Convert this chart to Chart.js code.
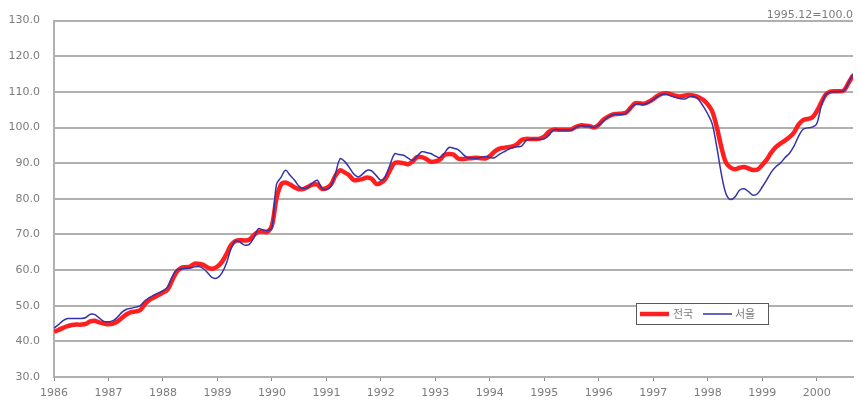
<!DOCTYPE html>
<html>
<head>
<meta charset="utf-8">
<script src="https://cdn.jsdelivr.net/npm/chart.js@4.4.1/dist/chart.umd.min.js"></script>
<style>
  html, body { margin: 0; padding: 0; background: #ffffff; }
  #wrap { width: 859px; height: 405px; position: relative; }
</style>
</head>
<body>
<div id="wrap"><canvas id="c"></canvas></div>
<script>
// Monthly housing price index, Jan 1986 - Sep 2000 (1995.12 = 100.0)
const startYear = 1986;
const baseNote = '1995.12=100.0';
const yearTicks = [1986, 1987, 1988, 1989, 1990, 1991, 1992, 1993, 1994, 1995, 1996, 1997, 1998, 1999, 2000];
const seriesNames = ['전국', '서울'];

const national = [
  42.7, 43.2, 43.8, 44.3, 44.6, 44.7, 44.7, 44.9, 45.6, 45.8, 45.3, 45.0,   // 1986
  44.8, 45.0, 45.6, 46.6, 47.6, 48.2, 48.4, 48.8, 50.4, 51.6, 52.3, 53.0,   // 1987
  53.7, 54.5, 57.0, 59.5, 60.6, 60.8, 61.0, 61.8, 61.7, 61.4, 60.6, 60.4,   // 1988
  61.0, 62.3, 64.5, 67.0, 68.2, 68.4, 68.3, 68.5, 69.8, 70.7, 70.8, 70.7,   // 1989
  72.5, 80.0, 84.0, 84.6, 84.0, 83.2, 82.7, 82.8, 83.4, 84.0, 84.0, 82.8,   // 1990
  83.0, 84.0, 86.5, 88.0, 87.4, 86.6, 85.3, 85.3, 85.6, 86.0, 85.6, 84.2,   // 1991
  84.5, 85.6, 88.0, 90.0, 90.2, 90.0, 89.7, 90.5, 91.7, 91.7, 91.2, 90.4,   // 1992
  90.5, 91.0, 92.3, 92.6, 92.4, 91.3, 91.2, 91.3, 91.4, 91.5, 91.4, 91.3,   // 1993
  92.0, 93.2, 94.0, 94.3, 94.5, 94.7, 95.3, 96.5, 96.8, 96.8, 96.8, 96.9,   // 1994
  97.5, 98.8, 99.4, 99.4, 99.4, 99.4, 99.5, 100.2, 100.6, 100.5, 100.4, 100.0, // 1995
  100.8, 102.2, 103.0, 103.6, 103.8, 103.9, 104.2, 105.5, 106.8, 106.8, 106.7, 107.2, // 1996
  108.0, 108.9, 109.5, 109.6, 109.3, 108.9, 108.7, 109.0, 109.1, 108.9, 108.5, 107.8, // 1997
  106.5, 104.5, 100.1, 94.5, 90.2, 88.8, 88.3, 88.7, 88.9, 88.5, 88.1, 88.2,  // 1998
  89.5, 91.0, 93.0, 94.5, 95.5, 96.3, 97.3, 98.6, 100.8, 102.1, 102.4, 102.8, // 1999
  104.5, 107.0, 109.3, 110.1, 110.2, 110.2, 110.4, 112.5, 114.6              // 2000
];

const seoul = [
  43.7, 44.7, 45.8, 46.4, 46.4, 46.4, 46.4, 46.7, 47.6, 47.5, 46.5, 45.6,   // 1986
  45.5, 45.8, 46.8, 48.2, 49.0, 49.3, 49.6, 50.0, 51.4, 52.3, 53.0, 53.6,   // 1987
  54.2, 55.2, 58.0, 60.0, 60.3, 60.5, 60.6, 60.9, 61.0, 60.3, 59.0, 57.8,   // 1988
  57.8, 59.2, 62.0, 66.0, 68.2, 67.8, 67.0, 67.2, 69.0, 71.6, 71.3, 71.1,   // 1989
  71.8, 84.0, 86.0, 88.0, 86.6, 85.2, 83.5, 82.9, 83.3, 84.5, 85.2, 83.0,   // 1990
  82.6, 83.5, 87.0, 91.2, 90.5, 88.9, 87.0, 86.1, 87.0, 88.0, 87.8, 86.5,   // 1991
  85.2, 86.3, 89.5, 92.6, 92.4, 92.2, 91.4, 90.8, 92.0, 93.2, 93.0, 92.7,   // 1992
  92.0, 91.6, 92.8, 94.4, 94.2, 93.8, 92.6, 91.6, 91.4, 91.4, 91.6, 91.9,   // 1993
  91.6, 91.5, 92.4, 93.1, 93.8, 94.3, 94.6, 94.8, 96.3, 96.7, 96.7, 96.7,   // 1994
  96.8, 97.8, 99.3, 99.4, 99.3, 99.3, 99.4, 100.0, 100.5, 100.4, 100.3, 100.0, // 1995
  100.7, 101.8, 102.9, 103.5, 103.7, 103.7, 104.0, 105.4, 106.5, 106.6, 106.5, 107.0, // 1996
  107.8, 108.7, 109.3, 109.3, 108.8, 108.4, 108.1, 108.0, 108.6, 108.7, 107.8, 106.0, // 1997
  103.8, 101.0, 94.5, 87.0, 81.5, 79.8, 80.5, 82.4, 82.8, 82.0, 81.0, 81.5,  // 1998
  83.3, 85.3, 87.5, 89.0, 90.0, 91.5, 92.8, 94.8, 97.5, 99.5, 99.9, 100.1,  // 1999
  101.0, 106.0, 109.2, 110.0, 110.0, 110.1, 110.3, 112.5, 115.1             // 2000
];

const toPoints = arr => arr.map((v, i) => ({ x: startYear + i / 12, y: v }));
const lastX = startYear + (national.length - 1) / 12;

const FONT = '"DejaVu Sans", sans-serif';
const TEXT = '#7c7c7c';
const GRID = '#b0b0b0';

// Legend box and the base-period note drawn on the canvas
const decorations = {
  id: 'decorations',
  afterDraw(chart) {
    const ctx = chart.ctx;
    const area = chart.chartArea;
    ctx.save();
    ctx.font = '11px ' + FONT;
    ctx.fillStyle = TEXT;
    ctx.textAlign = 'right';
    ctx.textBaseline = 'alphabetic';
    ctx.fillText(baseNote, area.right, area.top - 3);

    const bx = 636, by = 303, bw = 132, bh = 21;
    ctx.fillStyle = '#ffffff';
    ctx.fillRect(bx, by, bw, bh);
    ctx.strokeStyle = '#5a5a5a';
    ctx.lineWidth = 1;
    ctx.strokeRect(bx + 0.5, by + 0.5, bw, bh);
    const cy = by + bh / 2 + 0.5;
    const ds = chart.data.datasets;
    const items = [
      { x0: 640, x1: 669, tx: 673, d: ds[0] },
      { x0: 703, x1: 732, tx: 735, d: ds[1] }
    ];
    ctx.textAlign = 'left';
    ctx.textBaseline = 'middle';
    ctx.font = '11px "Noto Sans CJK KR", sans-serif';
    items.forEach(it => {
      ctx.strokeStyle = it.d.borderColor;
      ctx.lineWidth = it.d.borderWidth;
      ctx.beginPath();
      ctx.moveTo(it.x0, cy);
      ctx.lineTo(it.x1, cy);
      ctx.stroke();
      ctx.fillStyle = TEXT;
      ctx.fillText(it.d.label, it.tx, cy);
    });
    ctx.restore();
  }
};

new Chart(document.getElementById('c'), {
  type: 'line',
  data: {
    datasets: [
      {
        label: seriesNames[0],
        data: toPoints(national),
        borderColor: '#ff1f1f',
        borderWidth: 4.5,
        pointRadius: 0,
        tension: 0.35,
        order: 1
      },
      {
        label: seriesNames[1],
        data: toPoints(seoul),
        borderColor: '#3434a8',
        borderWidth: 1.5,
        pointRadius: 0,
        tension: 0.35,
        order: 0
      }
    ]
  },
  options: {
    responsive: true,
    maintainAspectRatio: false,
    animation: false,
    layout: { padding: { top: 19, right: 6, left: 0, bottom: 0 } },
    plugins: {
      legend: { display: false },
      tooltip: { enabled: false }
    },
    scales: {
      x: {
        type: 'linear',
        min: startYear,
        max: lastX,
        afterBuildTicks(scale) {
          scale.ticks = yearTicks.map(v => ({ value: v }));
        },
        afterFit(scale) { scale.height = 28; },
        ticks: {
          autoSkip: false,
          maxRotation: 0,
          padding: 6,
          color: TEXT,
          font: { family: FONT, size: 11 },
          callback: v => String(v)
        },
        grid: {
          drawOnChartArea: false,
          drawTicks: true,
          tickLength: 4,
          color: '#8a8a8a',
          lineWidth: 1
        },
        border: { display: true, color: GRID, width: 2 }
      },
      y: {
        min: 30,
        max: 130,
        afterFit(scale) { scale.width = 54; },
        ticks: {
          stepSize: 10,
          padding: 14,
          color: TEXT,
          font: { family: FONT, size: 11 },
          callback: v => Number(v).toFixed(1)
        },
        grid: {
          color: GRID,
          lineWidth: 2,
          drawTicks: false
        },
        border: { display: true, color: GRID, width: 2 }
      }
    }
  },
  plugins: [decorations]
});
</script>
</body>
</html>
